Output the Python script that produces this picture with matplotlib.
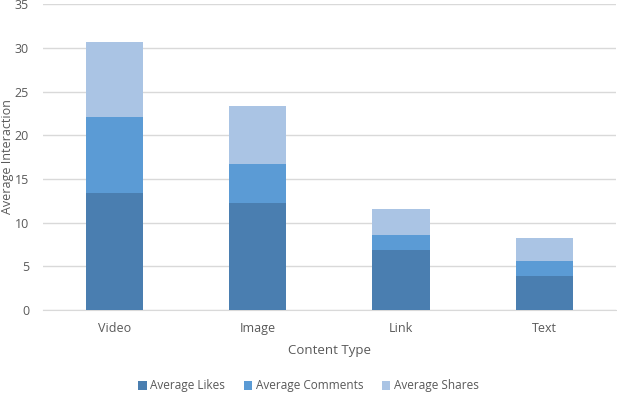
import matplotlib.pyplot as plt
import numpy as np

plt.rcParams['font.family'] = ['Open Sans', 'DejaVu Sans']

categories = ["Video", "Image", "Link", "Text"]
likes = [13.4, 12.25, 6.9, 3.9]
comments = [8.75, 4.45, 1.65, 1.7]
shares = [8.5, 6.7, 3.05, 2.6]

c_likes = '#4a7eb0'
c_comments = '#5b9bd5'
c_shares = '#aac4e4'
txt = '#595959'

fig = plt.figure(figsize=(6.17, 3.94), dpi=100)
ax = fig.add_axes([0.0697, 0.2132, 0.9283, 0.7758])

x = np.arange(len(categories))
likes = np.array(likes)
comments = np.array(comments)
shares = np.array(shares)
w = 0.4
ax.bar(x, likes, w, color=c_likes, label="Average Likes", zorder=3)
ax.bar(x, comments, w, bottom=likes, color=c_comments, label="Average Comments", zorder=3)
ax.bar(x, shares, w, bottom=likes + comments, color=c_shares, label="Average Shares", zorder=3)

ax.set_xlim(-0.5, len(categories) - 0.5)
ax.set_ylim(0, 35)
ax.set_yticks(range(0, 36, 5))
ax.set_xticks(x)
ax.set_xticklabels(categories)
ax.grid(axis='y', color='#d9d9d9', linewidth=1, zorder=0)
for s in ['top', 'right', 'left']:
    ax.spines[s].set_visible(False)
ax.spines['bottom'].set_color('#d9d9d9')
ax.tick_params(length=0, colors=txt, labelsize=9)
ax.tick_params(axis='x', pad=9)
ax.tick_params(axis='y', pad=10)

ax.set_xlabel("Content Type", color=txt, fontsize=9.5, labelpad=6)
fig.text(8 / 617, 1 - 157 / 394, "Average Interaction", color=txt, fontsize=9,
         rotation=90, ha='center', va='center')

leg = fig.legend(loc='center', bbox_to_anchor=(0.5, 1 - 386 / 394), ncol=3, frameon=False,
                 fontsize=8.5, handlelength=0.7, handleheight=0.7, handletextpad=0.3,
                 columnspacing=1.6)
for t in leg.get_texts():
    t.set_color(txt)

fig.savefig("out.png", dpi=100)
